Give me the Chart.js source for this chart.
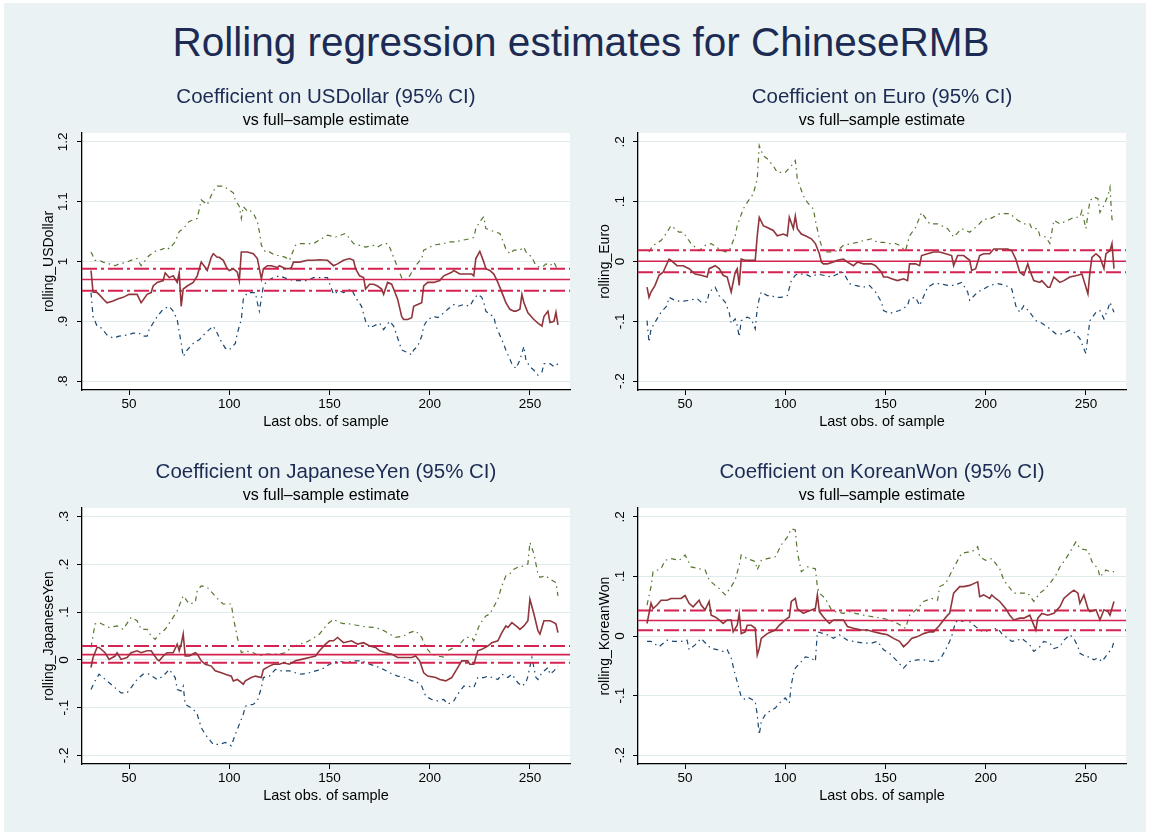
<!DOCTYPE html>
<html>
<head>
<meta charset="utf-8">
<script src="https://cdn.jsdelivr.net/npm/chart.js@4.4.1/dist/chart.umd.min.js"></script>
<style>
  body { margin: 0; background: #fff; font-family: "Liberation Sans", Arial, sans-serif; }
  #bg { position: absolute; left: 4px; top: 3px; width: 1142px; height: 829px; background: #eaf2f3; }
  h1 { position: absolute; left: 6px; top: 22px; width: 1150px; margin: 0; text-align: center;
       font-weight: normal; font-size: 40.5px; line-height: 1; color: #1c2b54; }
  canvas { position: absolute; }
</style>
</head>
<body>
<div id="bg"></div>
<h1>Rolling regression estimates for ChineseRMB</h1>
<canvas id="c0" width="545" height="352" style="left:30px;top:80px"></canvas>
<canvas id="c1" width="545" height="352" style="left:586px;top:80px"></canvas>
<canvas id="c2" width="545" height="351" style="left:30px;top:455px"></canvas>
<canvas id="c3" width="545" height="351" style="left:586px;top:455px"></canvas>
<script>
// currencies shown in the four panels
const currencies = ['USDollar', 'Euro', 'JapaneseYen', 'KoreanWon'];

// full-sample estimate and its 95% CI, one per currency
const fullEst = [0.970, 0.0005, 0.011, 0.026];
const fullLo = [0.951, -0.018, -0.006, 0.0095];
const fullHi = [0.988, 0.019, 0.029, 0.043];

// axis ticks
const xTicks = [50, 100, 150, 200, 250];
const yTicksUsd = [0.8, 0.9, 1, 1.1, 1.2];
const yTicksEur = [-0.2, -0.1, 0, 0.1, 0.2];
const yTicksYen = [-0.2, -0.1, 0, 0.1, 0.2, 0.3];
const yTicksWon = [-0.2, -0.1, 0, 0.1, 0.2];

// rolling estimates: [last obs. of sample, coefficient]
const usdEst = [[31,0.985],[32,0.949],[34,0.948],[35,0.945],[38,0.934],[39,0.931],[42,0.934],[44,0.937],[45,0.938],[47,0.940],[50,0.945],[54,0.945],[56,0.931],[59,0.945],[61,0.948],[62,0.959],[64,0.965],[67,0.968],[68,0.981],[70,0.973],[72,0.976],[74,0.965],[75,0.981],[76,0.925],[77,0.954],[79,0.959],[82,0.965],[84,0.976],[86,0.999],[88,0.990],[89,0.985],[91,1.007],[92,1.013],[94,1.007],[95,1.007],[97,1.002],[99,0.988],[100,0.985],[102,0.988],[104,0.982],[105,0.968],[106,1.016],[109,1.016],[112,1.013],[114,1.005],[115,0.988],[116,0.971],[117,0.988],[119,0.993],[121,0.993],[124,0.990],[125,0.993],[128,0.988],[130,0.988],[131,0.990],[132,0.999],[135,0.999],[139,1.002],[142,1.002],[145,1.003],[149,1.002],[152,0.993],[154,0.996],[157,1.002],[160,1.005],[162,1.002],[163,0.988],[165,0.976],[167,0.973],[168,0.954],[170,0.962],[172,0.962],[174,0.959],[176,0.954],[177,0.945],[179,0.965],[181,0.962],[182,0.954],[184,0.937],[186,0.908],[187,0.903],[189,0.903],[191,0.906],[192,0.925],[194,0.928],[196,0.931],[197,0.959],[199,0.965],[202,0.965],[205,0.968],[207,0.976],[211,0.982],[212,0.985],[215,0.979],[218,0.979],[221,0.979],[222,0.976],[223,1.005],[225,1.017],[227,0.999],[228,0.988],[230,0.985],[232,0.979],[234,0.965],[237,0.940],[238,0.931],[240,0.920],[242,0.917],[243,0.917],[245,0.920],[246,0.945],[247,0.931],[249,0.914],[252,0.903],[254,0.897],[256,0.892],[257,0.908],[259,0.917],[260,0.898],[262,0.900],[263,0.915],[264,0.894]];
const usdHi = [[31,1.016],[33,1.002],[35,1.002],[37,0.999],[40,0.996],[43,0.993],[45,0.996],[49,0.999],[51,1.002],[54,1.005],[56,0.993],[60,1.010],[64,1.019],[66,1.020],[69,1.024],[70,1.021],[73,1.033],[75,1.050],[77,1.055],[80,1.067],[84,1.072],[86,1.103],[89,1.095],[90,1.103],[92,1.118],[94,1.126],[97,1.126],[99,1.122],[102,1.115],[103,1.103],[105,1.092],[106,1.072],[107,1.092],[109,1.084],[110,1.086],[112,1.081],[114,1.067],[115,1.050],[116,1.027],[118,1.016],[120,1.016],[123,1.010],[125,1.010],[128,1.007],[130,1.002],[133,1.027],[135,1.030],[139,1.030],[142,1.030],[145,1.036],[149,1.044],[153,1.041],[158,1.047],[162,1.030],[165,1.027],[168,1.024],[172,1.027],[174,1.024],[177,1.030],[179,1.030],[180,1.024],[182,1.007],[184,0.990],[186,0.973],[187,0.968],[190,0.976],[193,0.993],[196,1.005],[197,1.019],[200,1.024],[203,1.028],[207,1.030],[210,1.033],[213,1.033],[217,1.036],[220,1.038],[222,1.040],[223,1.055],[225,1.067],[227,1.075],[228,1.055],[230,1.053],[232,1.050],[235,1.047],[237,1.030],[238,1.021],[240,1.013],[242,1.019],[245,1.019],[247,1.024],[248,1.016],[251,1.007],[253,0.993],[255,0.990],[257,0.993],[258,0.996],[260,0.993],[262,0.999],[264,0.985]];
const usdLo = [[31,0.948],[32,0.908],[34,0.892],[36,0.889],[39,0.877],[42,0.872],[45,0.875],[49,0.877],[52,0.880],[55,0.880],[57,0.875],[59,0.875],[60,0.886],[62,0.897],[64,0.908],[67,0.920],[70,0.925],[72,0.917],[74,0.903],[76,0.863],[77,0.841],[79,0.852],[82,0.863],[85,0.869],[88,0.880],[90,0.886],[92,0.892],[94,0.880],[95,0.872],[98,0.855],[100,0.852],[103,0.863],[104,0.880],[106,0.903],[107,0.937],[109,0.948],[111,0.948],[113,0.948],[114,0.931],[115,0.917],[117,0.959],[119,0.968],[122,0.973],[125,0.976],[129,0.971],[132,0.968],[135,0.968],[139,0.968],[142,0.973],[145,0.973],[149,0.973],[152,0.945],[155,0.951],[157,0.948],[161,0.954],[163,0.940],[166,0.925],[168,0.900],[170,0.889],[172,0.892],[175,0.897],[177,0.886],[180,0.900],[182,0.892],[184,0.872],[186,0.852],[188,0.849],[191,0.844],[192,0.852],[194,0.858],[196,0.875],[197,0.892],[199,0.903],[202,0.908],[204,0.906],[207,0.914],[209,0.920],[212,0.928],[214,0.925],[217,0.928],[220,0.925],[222,0.937],[224,0.945],[226,0.940],[227,0.931],[228,0.917],[230,0.911],[232,0.908],[233,0.892],[236,0.869],[238,0.852],[241,0.829],[243,0.821],[245,0.835],[247,0.858],[248,0.835],[250,0.824],[252,0.818],[254,0.810],[256,0.815],[257,0.829],[260,0.829],[262,0.824],[264,0.829]];

const eurEst = [[31,-0.043],[32,-0.060],[33,-0.051],[35,-0.040],[37,-0.023],[39,-0.018],[42,0.004],[43,0.002],[46,-0.007],[49,-0.007],[52,-0.012],[55,-0.021],[58,-0.023],[61,-0.026],[62,-0.012],[65,-0.007],[67,-0.012],[69,-0.023],[71,-0.026],[73,-0.051],[75,-0.018],[76,-0.012],[77,-0.040],[78,0.004],[80,0.002],[82,0.002],[85,0.002],[86,0.043],[87,0.074],[89,0.060],[91,0.057],[94,0.052],[96,0.043],[99,0.046],[101,0.043],[102,0.074],[104,0.055],[105,0.076],[106,0.055],[108,0.046],[110,0.043],[113,0.038],[115,0.030],[117,0.013],[118,-0.001],[119,-0.004],[121,-0.004],[124,-0.001],[126,0.002],[129,0.004],[131,-0.001],[134,-0.007],[136,-0.001],[139,-0.004],[143,-0.004],[145,-0.007],[148,-0.018],[149,-0.026],[151,-0.026],[153,-0.029],[156,-0.032],[159,-0.029],[161,-0.032],[162,-0.004],[165,-0.004],[167,-0.007],[168,0.010],[171,0.013],[174,0.016],[177,0.016],[180,0.013],[183,0.010],[184,-0.007],[186,0.010],[189,0.010],[192,0.002],[193,-0.015],[195,-0.012],[197,0.010],[199,0.013],[202,0.013],[204,0.021],[207,0.021],[211,0.021],[213,0.018],[215,0.004],[217,-0.018],[219,-0.023],[221,-0.004],[222,-0.015],[224,-0.032],[227,-0.035],[228,-0.032],[231,-0.043],[232,-0.043],[234,-0.026],[237,-0.035],[239,-0.032],[242,-0.026],[246,-0.023],[248,-0.021],[249,-0.032],[251,-0.054],[252,-0.018],[253,0.007],[255,0.013],[257,0.007],[259,-0.012],[260,0.013],[262,0.018],[263,0.030],[264,-0.012]];
const eurHi = [[32,0.016],[34,0.027],[38,0.035],[41,0.049],[43,0.060],[47,0.049],[49,0.049],[53,0.030],[57,0.018],[60,0.027],[63,0.030],[67,0.021],[70,0.016],[72,0.018],[75,0.043],[76,0.060],[79,0.088],[81,0.099],[84,0.113],[86,0.138],[87,0.194],[89,0.177],[91,0.172],[94,0.160],[96,0.149],[100,0.149],[103,0.160],[105,0.169],[106,0.138],[109,0.110],[111,0.099],[114,0.088],[115,0.069],[117,0.038],[119,0.016],[123,0.016],[126,0.018],[129,0.027],[133,0.030],[136,0.032],[139,0.035],[143,0.038],[146,0.032],[149,0.032],[152,0.030],[155,0.030],[157,0.027],[160,0.018],[162,0.043],[165,0.057],[168,0.082],[172,0.063],[176,0.063],[181,0.055],[184,0.041],[188,0.055],[192,0.049],[196,0.060],[199,0.071],[202,0.071],[207,0.080],[212,0.080],[216,0.069],[219,0.063],[222,0.063],[223,0.055],[226,0.055],[227,0.043],[230,0.041],[232,0.030],[234,0.069],[237,0.063],[241,0.069],[244,0.074],[247,0.074],[248,0.085],[250,0.055],[252,0.102],[254,0.108],[256,0.105],[257,0.082],[259,0.094],[261,0.110],[262,0.124],[263,0.071],[264,0.063]];
const eurLo = [[31,-0.099],[32,-0.135],[33,-0.113],[36,-0.096],[38,-0.085],[41,-0.074],[42,-0.060],[45,-0.065],[48,-0.067],[52,-0.065],[56,-0.062],[58,-0.068],[61,-0.068],[62,-0.051],[65,-0.043],[67,-0.057],[70,-0.068],[72,-0.085],[73,-0.104],[75,-0.096],[76,-0.107],[77,-0.126],[78,-0.099],[81,-0.093],[83,-0.096],[85,-0.113],[86,-0.079],[87,-0.062],[88,-0.051],[91,-0.057],[93,-0.057],[95,-0.060],[98,-0.060],[101,-0.057],[103,-0.032],[105,-0.023],[106,-0.021],[110,-0.021],[113,-0.026],[116,-0.021],[119,-0.023],[123,-0.026],[126,-0.021],[129,-0.018],[132,-0.037],[135,-0.040],[139,-0.043],[142,-0.040],[145,-0.051],[148,-0.068],[149,-0.082],[152,-0.087],[154,-0.085],[157,-0.082],[161,-0.074],[162,-0.062],[165,-0.060],[167,-0.074],[171,-0.043],[174,-0.037],[177,-0.037],[181,-0.040],[184,-0.040],[188,-0.035],[191,-0.051],[192,-0.065],[196,-0.051],[199,-0.046],[202,-0.040],[206,-0.037],[210,-0.040],[213,-0.046],[215,-0.074],[217,-0.085],[219,-0.074],[222,-0.085],[225,-0.099],[227,-0.101],[231,-0.110],[235,-0.121],[238,-0.121],[242,-0.115],[244,-0.118],[247,-0.129],[249,-0.146],[250,-0.154],[251,-0.124],[252,-0.099],[255,-0.085],[257,-0.082],[259,-0.096],[261,-0.079],[262,-0.068],[264,-0.085]];

const yenEst = [[31,-0.016],[32,0.005],[34,0.026],[35,0.026],[38,0.015],[40,0.001],[43,0.008],[44,0.015],[46,0.001],[49,0.005],[51,0.015],[54,0.019],[56,0.015],[59,0.019],[61,0.019],[64,0.001],[65,-0.002],[67,0.008],[69,0.015],[72,0.015],[74,0.033],[75,0.019],[76,0.033],[77,0.054],[78,0.008],[80,0.008],[83,0.015],[84,0.012],[86,-0.002],[88,-0.009],[91,-0.013],[93,-0.023],[96,-0.027],[98,-0.030],[101,-0.034],[102,-0.044],[104,-0.041],[107,-0.051],[108,-0.044],[111,-0.037],[113,-0.034],[116,-0.037],[117,-0.020],[120,-0.013],[122,-0.009],[125,-0.009],[127,-0.006],[130,-0.009],[133,-0.002],[136,0.001],[140,0.005],[143,0.008],[145,0.019],[148,0.033],[150,0.040],[152,0.040],[154,0.047],[157,0.036],[161,0.040],[164,0.033],[167,0.036],[170,0.029],[173,0.026],[175,0.019],[178,0.015],[181,0.012],[184,0.005],[188,0.005],[191,0.005],[193,0.008],[195,-0.002],[197,-0.027],[199,-0.034],[203,-0.037],[205,-0.041],[208,-0.044],[211,-0.037],[213,-0.023],[216,-0.002],[219,-0.002],[220,-0.009],[222,-0.009],[224,0.019],[226,0.022],[229,0.029],[231,0.036],[234,0.040],[236,0.057],[238,0.071],[239,0.068],[241,0.078],[244,0.068],[245,0.064],[247,0.071],[249,0.082],[250,0.127],[252,0.096],[254,0.061],[255,0.054],[257,0.082],[260,0.082],[262,0.078],[263,0.075],[264,0.057]];
const yenHi = [[31,0.026],[33,0.075],[35,0.078],[40,0.068],[44,0.071],[47,0.064],[51,0.089],[54,0.082],[56,0.064],[59,0.064],[61,0.050],[63,0.043],[65,0.054],[68,0.064],[72,0.089],[74,0.103],[77,0.134],[80,0.117],[83,0.120],[84,0.145],[86,0.155],[89,0.152],[92,0.138],[95,0.124],[97,0.117],[101,0.117],[102,0.089],[104,0.047],[106,0.015],[108,0.019],[112,0.015],[115,0.008],[118,0.012],[121,0.012],[125,0.012],[128,0.015],[131,0.026],[135,0.033],[138,0.036],[141,0.043],[145,0.054],[149,0.075],[152,0.085],[155,0.078],[157,0.076],[161,0.075],[163,0.073],[168,0.069],[172,0.068],[176,0.064],[180,0.054],[183,0.047],[187,0.050],[190,0.057],[193,0.061],[196,0.047],[198,0.026],[201,0.012],[204,0.008],[208,0.005],[209,0.019],[212,0.026],[215,0.033],[218,0.047],[221,0.047],[222,0.040],[224,0.064],[225,0.075],[228,0.092],[230,0.096],[234,0.127],[236,0.155],[238,0.176],[240,0.180],[242,0.190],[244,0.194],[247,0.197],[249,0.201],[250,0.246],[252,0.222],[254,0.180],[255,0.173],[258,0.176],[260,0.169],[263,0.162],[264,0.134]];
const yenLo = [[31,-0.062],[33,-0.044],[35,-0.030],[39,-0.044],[42,-0.055],[46,-0.069],[49,-0.069],[51,-0.058],[54,-0.041],[57,-0.030],[60,-0.030],[64,-0.041],[67,-0.034],[70,-0.020],[73,-0.037],[74,-0.062],[76,-0.065],[77,-0.055],[78,-0.093],[82,-0.103],[84,-0.114],[86,-0.142],[88,-0.156],[92,-0.177],[95,-0.177],[98,-0.173],[101,-0.180],[103,-0.156],[105,-0.135],[107,-0.114],[108,-0.097],[112,-0.093],[114,-0.086],[116,-0.058],[117,-0.037],[120,-0.034],[123,-0.020],[126,-0.023],[130,-0.023],[133,-0.027],[136,-0.030],[140,-0.027],[143,-0.023],[146,-0.020],[150,-0.009],[154,-0.002],[158,-0.006],[162,-0.002],[166,-0.002],[170,-0.009],[173,-0.013],[177,-0.020],[180,-0.027],[184,-0.034],[188,-0.037],[191,-0.044],[193,-0.044],[196,-0.055],[198,-0.076],[201,-0.083],[204,-0.086],[207,-0.083],[209,-0.093],[212,-0.086],[214,-0.072],[217,-0.055],[219,-0.055],[222,-0.058],[224,-0.037],[227,-0.037],[229,-0.034],[234,-0.041],[236,-0.030],[239,-0.037],[241,-0.030],[244,-0.048],[246,-0.055],[248,-0.048],[249,-0.034],[251,0.005],[253,-0.037],[254,-0.041],[256,-0.027],[259,-0.016],[260,-0.030],[262,-0.023],[264,-0.013]];

const wonEst = [[31,0.021],[33,0.055],[34,0.046],[36,0.052],[38,0.060],[41,0.060],[43,0.063],[46,0.063],[48,0.063],[50,0.068],[52,0.055],[54,0.049],[57,0.060],[58,0.052],[60,0.044],[62,0.058],[63,0.035],[65,0.032],[67,0.027],[69,0.021],[71,0.027],[73,0.027],[74,0.007],[76,0.018],[77,0.038],[78,0.004],[80,0.007],[81,0.018],[83,0.018],[85,0.013],[86,-0.032],[87,-0.021],[88,-0.004],[91,0.004],[93,0.007],[95,0.010],[97,0.018],[100,0.027],[102,0.032],[103,0.058],[105,0.063],[106,0.046],[109,0.038],[111,0.041],[115,0.046],[116,0.069],[117,0.041],[119,0.032],[122,0.021],[124,0.027],[126,0.027],[129,0.027],[131,0.016],[134,0.013],[138,0.010],[141,0.010],[144,0.007],[148,0.004],[151,0.002],[154,-0.004],[157,-0.009],[159,-0.018],[161,-0.012],[163,-0.004],[166,-0.001],[169,0.004],[172,0.007],[174,0.007],[177,0.018],[179,0.027],[181,0.035],[182,0.038],[184,0.072],[187,0.083],[189,0.083],[192,0.085],[194,0.088],[196,0.091],[197,0.066],[199,0.069],[202,0.063],[203,0.069],[205,0.063],[207,0.058],[210,0.046],[212,0.035],[214,0.027],[217,0.030],[219,0.030],[222,0.035],[225,0.010],[226,0.030],[228,0.038],[231,0.035],[234,0.038],[237,0.049],[239,0.063],[242,0.072],[244,0.077],[246,0.072],[247,0.055],[249,0.069],[251,0.046],[252,0.041],[255,0.044],[257,0.027],[259,0.044],[261,0.041],[262,0.035],[264,0.058]];
const wonHi = [[31,0.052],[33,0.083],[34,0.108],[38,0.113],[40,0.127],[43,0.130],[47,0.127],[50,0.136],[53,0.116],[57,0.113],[60,0.111],[62,0.094],[65,0.085],[67,0.080],[70,0.069],[73,0.083],[75,0.094],[77,0.119],[78,0.136],[81,0.130],[85,0.125],[86,0.111],[88,0.127],[91,0.130],[95,0.133],[98,0.153],[101,0.166],[103,0.180],[105,0.178],[106,0.141],[108,0.108],[111,0.116],[115,0.113],[116,0.083],[117,0.072],[120,0.063],[123,0.044],[125,0.041],[129,0.038],[132,0.041],[135,0.038],[139,0.035],[144,0.032],[148,0.030],[152,0.027],[156,0.021],[160,0.013],[162,0.035],[166,0.046],[169,0.058],[173,0.063],[176,0.060],[177,0.083],[180,0.088],[183,0.108],[186,0.127],[188,0.139],[191,0.141],[193,0.141],[196,0.150],[197,0.133],[200,0.127],[203,0.130],[207,0.113],[209,0.094],[211,0.085],[214,0.072],[217,0.072],[221,0.072],[224,0.058],[227,0.072],[229,0.077],[232,0.088],[235,0.102],[237,0.116],[240,0.130],[242,0.141],[245,0.158],[247,0.147],[251,0.144],[253,0.125],[256,0.113],[257,0.099],[260,0.111],[262,0.108],[264,0.108]];
const wonLo = [[31,-0.009],[33,-0.009],[37,-0.018],[41,-0.007],[44,-0.009],[48,-0.009],[51,-0.007],[52,-0.023],[55,-0.015],[58,-0.004],[61,-0.015],[63,-0.021],[66,-0.023],[69,-0.026],[71,-0.023],[73,-0.037],[75,-0.065],[76,-0.077],[78,-0.102],[80,-0.107],[82,-0.104],[85,-0.110],[86,-0.132],[87,-0.166],[88,-0.144],[90,-0.132],[92,-0.127],[95,-0.121],[97,-0.113],[100,-0.104],[102,-0.113],[103,-0.082],[104,-0.065],[105,-0.054],[108,-0.043],[110,-0.035],[113,-0.037],[115,-0.043],[116,0.007],[119,0.004],[121,0.002],[124,-0.004],[127,0.002],[131,-0.007],[134,-0.009],[139,-0.012],[143,-0.012],[146,-0.009],[149,-0.023],[152,-0.029],[156,-0.043],[159,-0.054],[162,-0.043],[166,-0.040],[169,-0.040],[173,-0.043],[177,-0.040],[178,-0.035],[180,-0.023],[182,-0.009],[183,-0.001],[185,0.024],[187,0.024],[191,0.027],[193,0.021],[196,0.013],[197,0.010],[199,0.007],[202,0.010],[206,0.013],[208,0.004],[211,-0.004],[213,-0.009],[216,-0.007],[218,-0.004],[222,-0.015],[224,-0.026],[227,-0.018],[229,-0.009],[232,-0.012],[234,-0.021],[237,-0.018],[239,-0.007],[242,0.002],[244,-0.004],[246,-0.018],[247,-0.029],[250,-0.035],[252,-0.035],[254,-0.040],[256,-0.037],[258,-0.043],[261,-0.029],[263,-0.021],[264,-0.009]];

const FONT = '"Liberation Sans", Arial, sans-serif';
const xMin = 26.5, xMax = 270;

const panels = [
  { est: usdEst, hi: usdHi, lo: usdLo, ticks: yTicksUsd, yMin: 0.785, yMax: 1.215 },
  { est: eurEst, hi: eurHi, lo: eurLo, ticks: yTicksEur, yMin: -0.215, yMax: 0.215 },
  { est: yenEst, hi: yenHi, lo: yenLo, ticks: yTicksYen, yMin: -0.218, yMax: 0.318 },
  { est: wonEst, hi: wonHi, lo: wonLo, ticks: yTicksWon, yMin: -0.215, yMax: 0.215 }
];

const pts = arr => arr.map(([x, y]) => ({ x, y }));
const flat = v => [{ x: xMin, y: v }, { x: xMax, y: v }];

// Stata style labels: .9, 1, -.1
function stataFmt(v) {
  const s = String(Math.round(v * 10) / 10);
  return s.replace(/^0\./, '.').replace(/^-0\./, '-.');
}

const plotBg = {
  id: 'plotBg',
  beforeDraw(chart) {
    const { ctx, chartArea: a } = chart;
    ctx.save();
    ctx.fillStyle = '#fff';
    ctx.fillRect(a.left, a.top, a.width, a.height);
    ctx.restore();
  }
};

panels.forEach((p, i) => {
  const red = '#d42350';
  new Chart(document.getElementById('c' + i), {
    type: 'line',
    data: {
      datasets: [
        { data: pts(p.est), borderColor: '#90353b', borderWidth: 1.6 },
        { data: flat(fullEst[i]), borderColor: red, borderWidth: 1.6 },
        { data: flat(fullHi[i]), borderColor: red, borderWidth: 2, borderDash: [15, 4, 3, 4] },
        { data: flat(fullLo[i]), borderColor: red, borderWidth: 2, borderDash: [15, 4, 3, 4] },
        { data: pts(p.hi), borderColor: '#55752f', borderWidth: 1.2, borderDash: [5, 4, 1.5, 4] },
        { data: pts(p.lo), borderColor: '#1a476f', borderWidth: 1.2, borderDash: [5, 4, 1.5, 4] }
      ]
    },
    options: {
      responsive: false,
      animation: false,
      elements: { point: { radius: 0 }, line: { tension: 0 } },
      layout: { padding: { left: 0, right: 5, top: 0, bottom: 0 } },
      plugins: {
        legend: { display: false },
        tooltip: { enabled: false },
        title: {
          display: true, fullSize: false,
          text: 'Coefficient on ' + currencies[i] + ' (95% CI)',
          color: '#1c2b54',
          font: { family: FONT, size: 20.5, weight: 'normal', lineHeight: 1 },
          padding: { top: 7.5, bottom: 5 }
        },
        subtitle: {
          display: true, fullSize: false,
          text: 'vs full\u2013sample estimate',
          color: '#000',
          font: { family: FONT, size: 16, weight: 'normal', lineHeight: 1 },
          padding: { top: 0, bottom: 4 }
        }
      },
      scales: {
        x: {
          type: 'linear', min: xMin, max: xMax,
          afterBuildTicks: s => { s.ticks = xTicks.map(v => ({ value: v })); },
          afterFit: s => { s.height = 42; s.paddingLeft = 0; s.paddingRight = 0; },
          grid: { drawOnChartArea: false, tickLength: 5, tickColor: '#000' },
          border: { color: '#000', width: 1.3 },
          ticks: { color: '#000', font: { family: FONT, size: 13.5 }, padding: 1, maxRotation: 0, autoSkip: false },
          title: { display: true, text: 'Last obs. of sample', color: '#000',
                   font: { family: FONT, size: 14.5 }, padding: { top: 0, bottom: 1.6 } }
        },
        y: {
          min: p.yMin, max: p.yMax,
          afterBuildTicks: s => { s.ticks = p.ticks.map(v => ({ value: v })); },
          afterFit: s => { s.width = 52; s.paddingTop = 0; s.paddingBottom = 0; },
          grid: { color: '#e1ebed', tickColor: '#000', tickLength: 5 },
          border: { color: '#000', width: 1.3 },
          ticks: { color: '#000', font: { family: FONT, size: 13.5 }, minRotation: 90, maxRotation: 90,
                   crossAlign: 'center', padding: 4.6, autoSkip: false, callback: v => stataFmt(v) },
          title: { display: true, text: 'rolling_' + currencies[i], color: '#000',
                   font: { family: FONT, size: 14 }, padding: { top: 10.3, bottom: 0 } }
        }
      }
    },
    plugins: [plotBg]
  });
});
</script>
</body>
</html>
